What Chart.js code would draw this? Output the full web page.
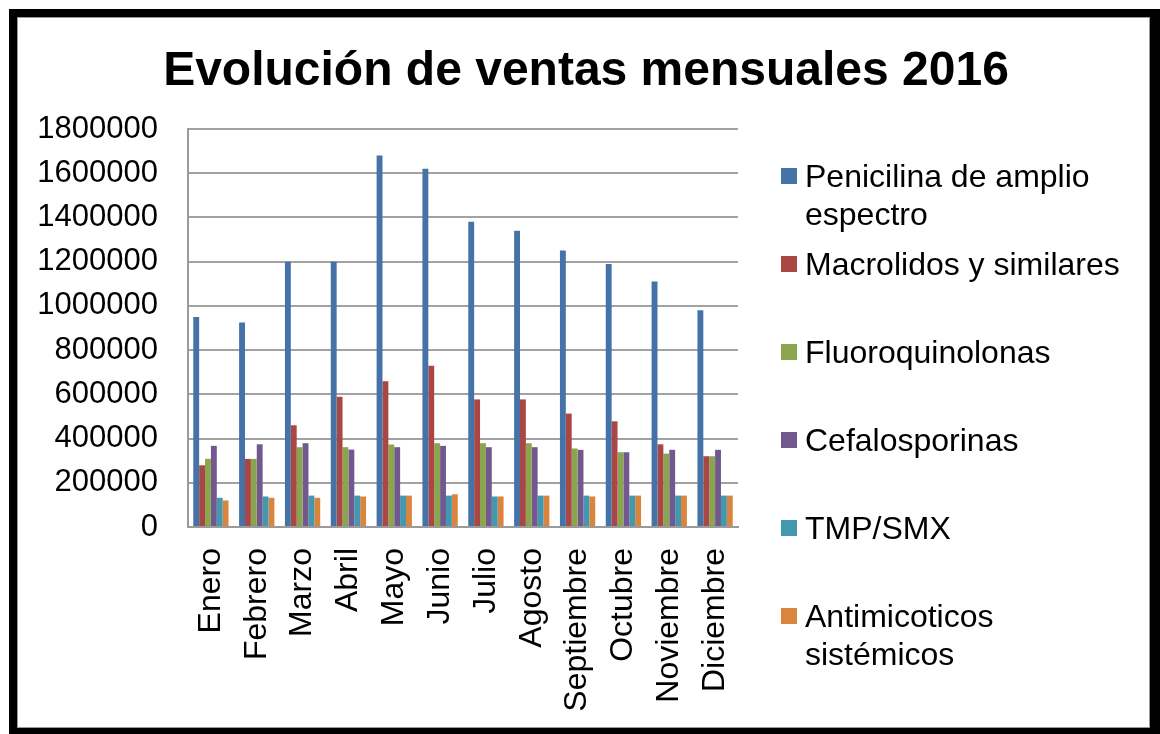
<!DOCTYPE html>
<html lang="es">
<head>
<meta charset="UTF-8">
<title>Evolución de ventas mensuales 2016</title>
<script src="https://cdn.jsdelivr.net/npm/chart.js"></script>
<style>
    html, body { margin: 0; padding: 0; background: #fff; }
    body { width: 1160px; height: 734px; position: relative; overflow: hidden; font-family: 'Liberation Sans', Arial, sans-serif; }
    #ventas { position: absolute; left: 0; top: 0; }
    .frame { position: absolute; left: 9px; top: 9px; right: 0; bottom: 0; border: solid #000; border-width: 8px 10px 6px 8px; box-shadow: inset 0 0 0 1px #9a9a9a; pointer-events: none; }
    h1 { position: absolute; left: 0; width: 1172px; top: 41px; margin: 0; text-align: center; font-size: 48px; line-height: 56px; font-weight: bold; color: #000; }
    #legend { position: absolute; left: 781px; top: 157px; }
    .legend-item { display: flex; align-items: flex-start; font-size: 32px; line-height: 38px; color: #000; }
    .legend-item + .legend-item { margin-top: 50px; }
    .legend-item:nth-child(2) { margin-top: 12px; }
    .legend-item .box { width: 16px; height: 16px; margin-top: 11px; margin-right: 8px; flex: none; }
    .legend-item .txt { width: 322px; }
</style>
</head>
<body>
    <canvas id="ventas" width="1160" height="734"></canvas>
    <h1>Evolución de ventas mensuales 2016</h1>
    <div id="legend"></div>
    <div class="frame"></div>

<script>
    const meses = ['Enero', 'Febrero', 'Marzo', 'Abril', 'Mayo', 'Junio', 'Julio', 'Agosto', 'Septiembre', 'Octubre', 'Noviembre', 'Diciembre'];

    const penicilina = [950000, 925000, 1200000, 1200000, 1680000, 1620000, 1380000, 1340000, 1250000, 1190000, 1110000, 980000];
    const macrolidos = [279000, 308000, 460000, 589000, 659000, 729000, 577000, 577000, 513000, 478000, 374000, 320000];
    const fluoroquinolonas = [308000, 308000, 361000, 361000, 373000, 379000, 379000, 379000, 355000, 338000, 332000, 320000];
    const cefalosporinas = [367000, 374000, 379000, 350000, 361000, 367000, 361000, 361000, 349000, 338000, 349000, 349000];
    const tmpSmx = [132000, 138000, 142000, 142000, 142000, 142000, 138000, 142000, 142000, 142000, 142000, 142000];
    const antimicoticos = [120000, 132000, 132000, 138000, 142000, 148000, 138000, 142000, 138000, 142000, 142000, 142000];

    const nombres = ['Penicilina de amplio espectro', 'Macrolidos y similares', 'Fluoroquinolonas', 'Cefalosporinas', 'TMP/SMX', 'Antimicoticos sistémicos'];
    const valores = [penicilina, macrolidos, fluoroquinolonas, cefalosporinas, tmpSmx, antimicoticos];
    const colores = ['#4572A7', '#AA4643', '#89A54E', '#71588F', '#4198AF', '#DB843D'];

    const yMax = 1800000;
    const yStep = 200000;

    Chart.defaults.font.family = "'Liberation Sans', Arial, sans-serif";
    Chart.defaults.color = '#000';

    const chart = new Chart(document.getElementById('ventas'), {
        type: 'bar',
        data: {
            labels: meses,
            datasets: nombres.map((nombre, i) => ({
                label: nombre,
                data: valores[i],
                backgroundColor: colores[i],
                categoryPercentage: 0.77,
                barPercentage: 1.0
            }))
        },
        options: {
            responsive: false,
            animation: false,
            layout: {
                padding: { top: 129, right: 422, bottom: 0, left: 0 }
            },
            plugins: {
                legend: { display: false },
                title: { display: false },
                tooltip: { enabled: false }
            },
            scales: {
                x: {
                    grid: { display: false, drawTicks: false },
                    border: { display: true, color: '#9a9a9a', width: 2 },
                    ticks: {
                        font: { size: 32 },
                        minRotation: 90,
                        maxRotation: 90,
                        padding: 21,
                        autoSkip: false
                    },
                    afterFit: scale => { scale.height = 207; }
                },
                y: {
                    min: 0,
                    max: yMax,
                    ticks: {
                        stepSize: yStep,
                        font: { size: 31 },
                        padding: 30,
                        callback: v => String(v)
                    },
                    grid: { color: '#a2a2a2', lineWidth: 2, drawTicks: false },
                    border: { color: '#9a9a9a', width: 2 },
                    afterFit: scale => { scale.width = 188; }
                }
            }
        }
    });

    // html legend, so the long names can wrap like in the original
    const legendBox = document.getElementById('legend');
    chart.data.datasets.forEach(ds => {
        const item = document.createElement('div');
        item.className = 'legend-item';
        const box = document.createElement('span');
        box.className = 'box';
        box.style.background = ds.backgroundColor;
        const txt = document.createElement('span');
        txt.className = 'txt';
        txt.textContent = ds.label;
        item.appendChild(box);
        item.appendChild(txt);
        legendBox.appendChild(item);
    });
</script>
</body>
</html>
